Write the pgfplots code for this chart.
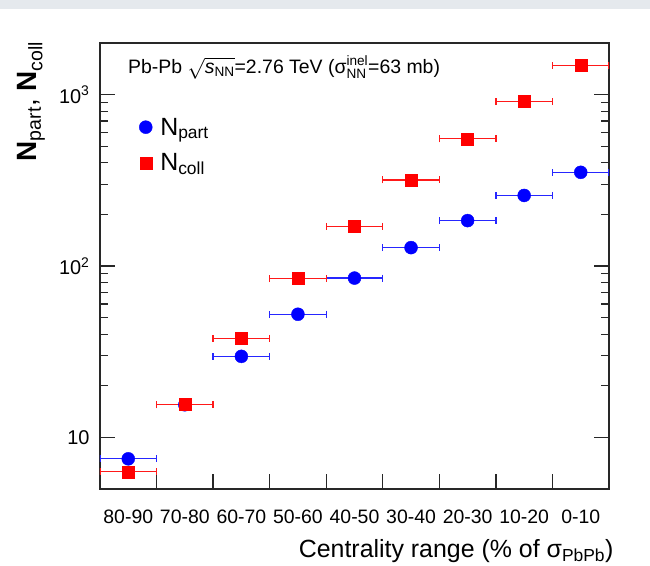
\documentclass[border=0pt]{standalone}
\usepackage{pgfplots}
\pgfplotsset{compat=1.18}
\usepackage{amsmath}
\usepackage{fontspec}
\setmainfont{Liberation Sans}
\definecolor{bandgray}{RGB}{229,233,237}
\definecolor{axgray}{RGB}{40,40,40}
\begin{document}
\begin{tikzpicture}
\begin{axis}[
  scale only axis, width=509bp, height=446bp,
  xmin=0, xmax=9, ymode=log, ymin=5, ymax=2000,
  axis line style={line width=1.3bp, axgray},
  every tick/.style={line width=1.3bp, axgray},
  major tick length=15bp, minor tick length=8bp,
  xtick={1,2,...,9},
  xticklabels={80-90,70-80,60-70,50-60,40-50,30-40,20-30,10-20,0-10},
  xticklabel style={xshift=-28.28bp, yshift=-17bp, font=\fontsize{19.5}{22}\selectfont},
  xtick pos=left,
  ytick={10,100,1000},
  yticklabels={10,10\textsuperscript{2},10\textsuperscript{3}},
  yticklabel style={xshift=-7bp, font=\fontsize{20}{22}\selectfont},
  ytick pos=both,
  xlabel={Centrality range (\% of σ$_{\text{PbPb}}$)},
  xlabel style={at={(rel axis cs:1,0)}, anchor=base east, yshift=-68bp, xshift=8bp, font=\fontsize{25}{27}\selectfont},
  ylabel={\textbf{N}$_{\text{part}}$, \textbf{N}$_{\text{coll}}$},
  ylabel style={at={(rel axis cs:-0.1244,1.0112)}, anchor=base east, font=\fontsize{28}{30}\selectfont},
  legend style={draw=none, fill=none, at={(rel axis cs:0.0709,0.8415)}, anchor=north west,
    font=\fontsize{25}{27}\selectfont, row sep=13bp},
  legend image code/.code={\draw[mark repeat=2, mark phase=2, #1] plot coordinates {(-4bp,0bp) (2.5bp,0bp) (17bp,0bp)};},
  legend cell align=left,
]
\addplot[only marks, mark=*, mark size=6.5bp, color=blue, mark options={fill=blue, draw=blue},
  error bars/.cd, x dir=both, x explicit, error mark=|,
  error bar style={line width=1.3bp, blue!85},
  error mark options={line width=1.3bp, mark size=3.5bp, blue!85}]
  coordinates {
  (0.5,7.5) +- (0.5,0)
  (1.5,15.5) +- (0.5,0)
  (2.5,29.7) +- (0.5,0)
  (3.5,52.3) +- (0.5,0)
  (4.5,85) +- (0.5,0)
  (5.5,128) +- (0.5,0)
  (6.5,184) +- (0.5,0)
  (7.5,258) +- (0.5,0)
  (8.5,352) +- (0.5,0)
  };
\addplot[only marks, mark=square*, mark size=6bp, color=red, mark options={fill=red, draw=red},
  error bars/.cd, x dir=both, x explicit, error mark=|,
  error bar style={line width=1.3bp, red!90},
  error mark options={line width=1.3bp, mark size=3.5bp, red!90}]
  coordinates {
  (0.5,6.3) +- (0.5,0)
  (1.5,15.6) +- (0.5,0)
  (2.5,37.8) +- (0.5,0)
  (3.5,84.5) +- (0.5,0)
  (4.5,170) +- (0.5,0)
  (5.5,318) +- (0.5,0)
  (6.5,552) +- (0.5,0)
  (7.5,910) +- (0.5,0)
  (8.5,1485) +- (0.5,0)
  };
\legend{\hspace{6bp}N$_{\text{part}}$, \hspace{6bp}N$_{\text{coll}}$}
\node[anchor=base west, font=\fontsize{19.5}{21}\selectfont, inner sep=0pt] at (rel axis cs:0.055,0.932)
  {Pb-Pb $\sqrt{\textit{s}_{\text{NN}}}$=2.76 TeV (σ$^{\text{inel}}_{\text{NN}}$=63 mb)};
\end{axis}
\path (current axis.south west) ++(-100bp,-77bp) coordinate (pgsw);
\path (pgsw) rectangle ++(650bp,566bp);
\fill[bandgray] (pgsw) ++(0,557bp) rectangle ++(650bp,9bp);
\end{tikzpicture}
\end{document}
